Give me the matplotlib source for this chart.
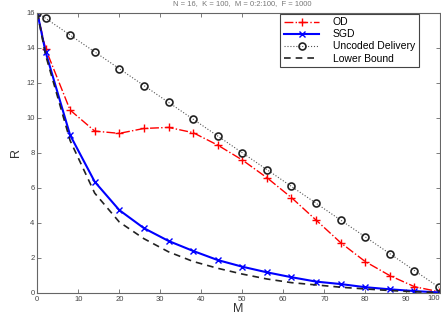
import matplotlib.pyplot as plt
import numpy as np

# Cache size M (marker positions) and rate R for each scheme
M = [0, 2, 8, 14, 20, 26, 32, 38, 44, 50, 56, 62, 68, 74, 80, 86, 92, 98]

R_od = [16.0, 13.95, 10.44, 9.24, 9.11, 9.39, 9.45, 9.15, 8.44, 7.59,
        6.58, 5.44, 4.16, 2.87, 1.79, 0.99, 0.36, 0.07]
R_sgd = [16.0, 13.77, 9.01, 6.35, 4.73, 3.70, 2.97, 2.40, 1.88, 1.50,
         1.18, 0.90, 0.65, 0.51, 0.33, 0.21, 0.11, 0.03]
R_uncoded = [16.0, 15.68, 14.72, 13.76, 12.8, 11.84, 10.88, 9.92, 8.96, 8.0,
             7.04, 6.08, 5.12, 4.16, 3.2, 2.24, 1.28, 0.32]
R_lower = [16.0, 13.6, 8.7, 5.7, 4.05, 3.1, 2.35, 1.8, 1.41, 1.08,
           0.80, 0.59, 0.46, 0.33, 0.23, 0.14, 0.07, 0.02]

x_ticks = [0, 10, 20, 30, 40, 50, 60, 70, 80, 90]
y_ticks = [0, 2, 4, 6, 8, 10, 12, 14, 16]

plt.rcParams['font.family'] = ['Liberation Sans', 'DejaVu Sans']

fig = plt.figure(figsize=(4.41, 3.24), dpi=100)
ax = fig.add_axes([0.0846, 0.0957, 0.912, 0.8653])

ax.plot(M, R_od, color='red', linestyle='-.', linewidth=1.0,
        marker='+', markersize=6, markeredgewidth=1.0, label='OD')
ax.plot(M, R_sgd, color='blue', linestyle='-', linewidth=1.5,
        marker='x', markersize=4, markeredgewidth=1.0, label='SGD')
ax.plot(M, R_uncoded, color='#555555', linestyle=':', linewidth=0.8,
        marker='o', markersize=5, markerfacecolor='none',
        markeredgecolor='#222222', markeredgewidth=1.2, label='Uncoded Delivery')
ax.plot(M, R_lower, color='#222222', linestyle='--', linewidth=1.2,
        dashes=(4, 3), label='Lower Bound')

ax.set_xlim(0, 98.1)
ax.set_ylim(0, 16)
ax.set_xticks(x_ticks)
ax.set_yticks(y_ticks)
ax.tick_params(direction='in', top=True, right=True, length=3, width=0.6,
               labelsize=5.5, labelcolor='#444444', colors='#666666', pad=2)
ax.text(1.0, -0.008, '100', transform=ax.transAxes, ha='right', va='top',
        fontsize=5.5, color='#444444')
for s in ax.spines.values():
    s.set_color('#666666')
    s.set_linewidth(0.8)

ax.set_xlabel('M', fontsize=9, color='#333333', labelpad=0)
ax.set_ylabel('R', fontsize=9, color='#333333', labelpad=3)

fig.text(0.55, 0.999, 'N = 16,  K = 100,  M = 0:2:100,  F = 1000', ha='center', va='top',
         fontsize=5.5, color='#777777')

leg = ax.legend(loc='upper right', bbox_to_anchor=(0.951, 1.0), fontsize=7.5,
                fancybox=False, framealpha=1, edgecolor='#444444',
                handlelength=3.4, borderpad=0.35, labelspacing=0.2, handletextpad=1.3,
                borderaxespad=0.1)
leg.get_frame().set_linewidth(0.8)

plt.savefig('out.png', dpi=100)
